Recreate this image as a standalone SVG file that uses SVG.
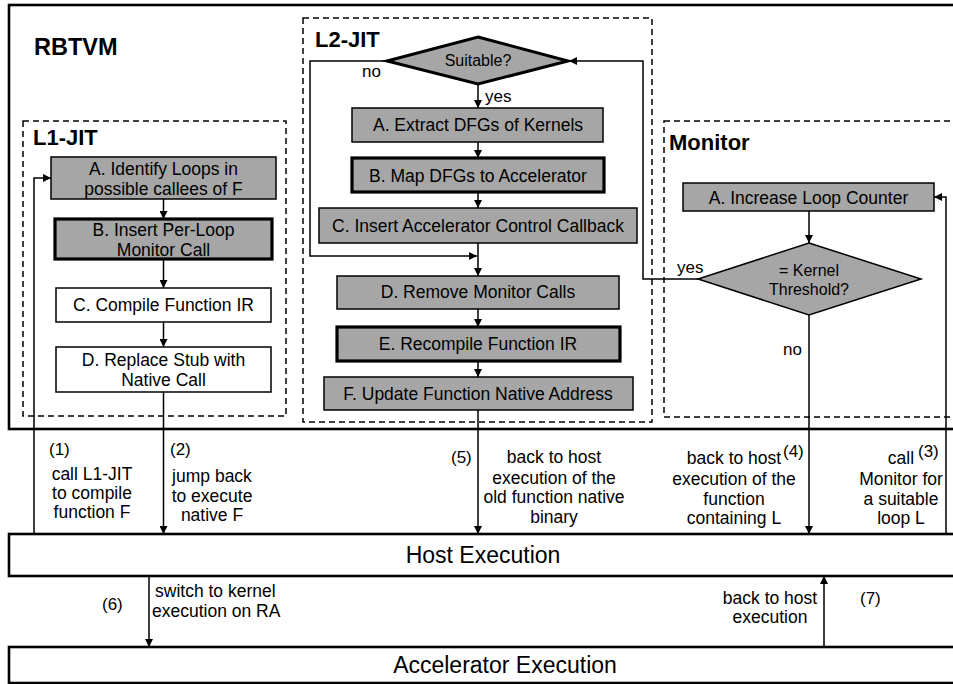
<svg xmlns="http://www.w3.org/2000/svg" width="953" height="684" viewBox="0 0 953 684">
  <style>
    text { font-family: "Liberation Sans", Arial, sans-serif; fill: #000; }
    .t { font-size: 17.5px; text-anchor: middle; }
    .d { font-size: 16px; text-anchor: middle; }
    .lbl { font-size: 17px; }
    .title { font-size: 22px; font-weight: bold; }
    .big { font-size: 23px; text-anchor: middle; }
    .grey { fill: #a6a6a6; stroke: #000; stroke-width: 1.5; }
    .grey-b { fill: #a6a6a6; stroke: #000; stroke-width: 3.2; }
    .white { fill: #fff; stroke: #000; stroke-width: 1.5; }
    .dash { fill: none; stroke: #000; stroke-width: 1.5; stroke-dasharray: 6 4; }
    .frame { fill: none; stroke: #000; stroke-width: 2.6; }
    .wire { fill: none; stroke: #000; stroke-width: 1.5; }
  </style>
  <defs>
    <marker id="arr" viewBox="0 0 10 10" refX="10" refY="5" markerWidth="8" markerHeight="8" markerUnits="userSpaceOnUse" orient="auto">
      <path d="M0,0 L10,5 L0,10 Z" fill="#000"/>
    </marker>
  </defs>
  <rect width="953" height="684" fill="#fff"/>

  <!-- outer frames -->
  <g id="rbtvm">
    <rect class="frame" x="9" y="5" width="960" height="424"/>
    <text class="title" x="34" y="55" style="font-size:23.5px">RBTVM</text>
  </g>
  <g id="host">
    <rect class="frame" x="9" y="534" width="960" height="42"/>
    <text class="big" x="483" y="563">Host Execution</text>
  </g>
  <g id="accel">
    <rect class="frame" x="9" y="647" width="960" height="36"/>
    <text class="big" x="505" y="673">Accelerator Execution</text>
  </g>

  <!-- L1-JIT -->
  <g id="l1jit">
    <rect class="dash" x="23" y="121" width="263" height="295"/>
    <text class="title" x="33" y="145">L1-JIT</text>
  </g>
  <g id="l1-a">
    <rect class="grey" x="51" y="157" width="225" height="42"/>
    <text class="t" x="163.5" y="175">A. Identify Loops in</text>
    <text class="t" x="163.5" y="195">possible callees of F</text>
  </g>
  <g id="l1-b">
    <rect class="grey-b" x="55" y="219" width="217" height="40"/>
    <text class="t" x="163.5" y="236">B. Insert Per-Loop</text>
    <text class="t" x="163.5" y="256">Monitor Call</text>
  </g>
  <g id="l1-c">
    <rect class="white" x="56" y="288" width="215" height="34"/>
    <text class="t" x="163.5" y="311">C. Compile Function IR</text>
  </g>
  <g id="l1-d">
    <rect class="white" x="56" y="347" width="215" height="45"/>
    <text class="t" x="163.5" y="366">D. Replace Stub with</text>
    <text class="t" x="163.5" y="386">Native Call</text>
  </g>

  <!-- L2-JIT -->
  <g id="l2jit">
    <rect class="dash" x="303" y="18" width="349" height="404"/>
    <text class="title" x="315" y="47">L2-JIT</text>
  </g>
  <g id="l2-suitable">
    <polygon points="478,37 568,61 478,84 387,61" fill="#a6a6a6" stroke="#000" stroke-width="3"/>
    <text class="d" x="478" y="66">Suitable?</text>
  </g>
  <g id="l2-a">
    <rect class="grey" x="352" y="108" width="251" height="34"/>
    <text class="t" x="478" y="131">A. Extract DFGs of Kernels</text>
  </g>
  <g id="l2-b">
    <rect class="grey-b" x="352" y="158" width="252" height="34"/>
    <text class="t" x="478" y="182">B. Map DFGs to Accelerator</text>
  </g>
  <g id="l2-c">
    <rect class="grey" x="319" y="208" width="318" height="35"/>
    <text class="t" x="478" y="232">C. Insert Accelerator Control Callback</text>
  </g>
  <g id="l2-d">
    <rect class="grey" x="337" y="276" width="282" height="33"/>
    <text class="t" x="478" y="298">D. Remove Monitor Calls</text>
  </g>
  <g id="l2-e">
    <rect class="grey-b" x="337" y="327" width="283" height="34"/>
    <text class="t" x="478" y="350">E. Recompile Function IR</text>
  </g>
  <g id="l2-f">
    <rect class="grey" x="324" y="377" width="309" height="33"/>
    <text class="t" x="478" y="400">F. Update Function Native Address</text>
  </g>

  <!-- Monitor -->
  <g id="monitor">
    <rect class="dash" x="664" y="121" width="300" height="296"/>
    <text class="title" x="669" y="150">Monitor</text>
  </g>
  <g id="mon-a">
    <rect class="grey" x="683" y="183" width="251" height="28"/>
    <text class="t" x="808.5" y="204">A. Increase Loop Counter</text>
  </g>
  <g id="mon-threshold">
    <polygon points="809,243 921,279 809,315 698,279" fill="#a6a6a6" stroke="#000" stroke-width="1.5"/>
    <text class="d" x="809" y="276">= Kernel</text>
    <text class="d" x="809" y="295">Threshold?</text>
  </g>

  <!-- connectors -->
  <g id="connectors">
    <line class="wire" x1="163.5" y1="199" x2="163.5" y2="219" marker-end="url(#arr)"/>
    <line class="wire" x1="163.5" y1="259" x2="163.5" y2="288" marker-end="url(#arr)"/>
    <line class="wire" x1="163.5" y1="322" x2="163.5" y2="347" marker-end="url(#arr)"/>
    <polyline class="wire" points="34,534 34,178 51,178" marker-end="url(#arr)"/>
    <line class="wire" x1="163.5" y1="392" x2="163.5" y2="534" marker-end="url(#arr)"/>

    <line class="wire" x1="478" y1="84" x2="478" y2="108" marker-end="url(#arr)"/>
    <line class="wire" x1="478" y1="142" x2="478" y2="158" marker-end="url(#arr)"/>
    <line class="wire" x1="478" y1="192" x2="478" y2="208" marker-end="url(#arr)"/>
    <line class="wire" x1="478" y1="243" x2="478" y2="276" marker-end="url(#arr)"/>
    <polyline class="wire" points="387,61 310,61 310,256 477,256" marker-end="url(#arr)"/>
    <line class="wire" x1="478" y1="309" x2="478" y2="327" marker-end="url(#arr)"/>
    <line class="wire" x1="478" y1="361" x2="478" y2="377" marker-end="url(#arr)"/>
    <line class="wire" x1="478" y1="410" x2="478" y2="534" marker-end="url(#arr)"/>

    <line class="wire" x1="809" y1="211" x2="809" y2="243" marker-end="url(#arr)"/>
    <polyline class="wire" points="698,279 643,279 643,61 569,61" marker-end="url(#arr)"/>
    <line class="wire" x1="809" y1="315" x2="809" y2="534" marker-end="url(#arr)"/>
    <polyline class="wire" points="946,534 946,197 934,197" marker-end="url(#arr)"/>

    <line class="wire" x1="149" y1="576" x2="149" y2="647" marker-end="url(#arr)"/>
    <line class="wire" x1="824" y1="647" x2="824" y2="576" marker-end="url(#arr)"/>
  </g>

  <!-- branch labels -->
  <g id="branch-labels">
    <text class="lbl" x="362" y="77">no</text>
    <text class="lbl" x="485" y="102">yes</text>
    <text class="lbl" x="677" y="273">yes</text>
    <text class="lbl" x="783" y="355">no</text>
  </g>

  <!-- flow labels -->
  <g id="flow-labels">
    <text class="lbl" x="49" y="455">(1)</text>
    <text class="t" x="92" y="480">call L1-JIT</text>
    <text class="t" x="92" y="499">to compile</text>
    <text class="t" x="92" y="518">function F</text>

    <text class="lbl" x="170" y="455">(2)</text>
    <text class="t" x="212" y="482">jump back</text>
    <text class="t" x="212" y="502">to execute</text>
    <text class="t" x="212" y="521">native F</text>

    <text class="lbl" x="451" y="463">(5)</text>
    <text class="t" x="554" y="463">back to host</text>
    <text class="t" x="554" y="484">execution of the</text>
    <text class="t" x="554" y="503">old function native</text>
    <text class="t" x="554" y="523">binary</text>

    <text class="t" x="734" y="464">back to host</text>
    <text class="lbl" x="783" y="457">(4)</text>
    <text class="t" x="734" y="485">execution of the</text>
    <text class="t" x="734" y="505">function</text>
    <text class="t" x="734" y="524">containing L</text>

    <text class="t" x="901" y="464">call</text>
    <text class="lbl" x="918" y="457">(3)</text>
    <text class="t" x="901" y="485">Monitor for</text>
    <text class="t" x="901" y="505">a suitable</text>
    <text class="t" x="901" y="524">loop L</text>

    <text class="lbl" x="102" y="610">(6)</text>
    <text class="lbl" x="155" y="597" style="font-size:17.5px">switch to kernel</text>
    <text class="lbl" x="152" y="617" style="font-size:17.5px">execution on RA</text>

    <text class="t" x="770" y="604">back to host</text>
    <text class="t" x="770" y="623">execution</text>
    <text class="lbl" x="860" y="604">(7)</text>
  </g>
</svg>
